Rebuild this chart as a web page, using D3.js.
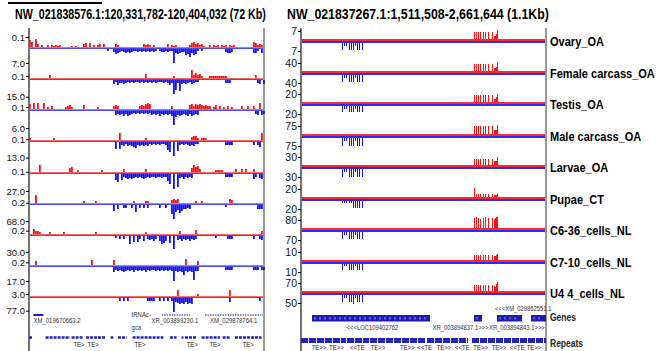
<!DOCTYPE html>
<html>
<head>
<meta charset="utf-8">
<script src="https://cdn.jsdelivr.net/npm/d3@7"></script>
<style>
body { margin: 0; background: #fff; }
svg { display: block; font-family: "Liberation Sans", Arial, sans-serif; }
</style>
</head>
<body>
<script>
const leftTitle = 'NW_021838576.1:120,331,782-120,404,032 (72 Kb)';
const rightTitle = 'NW_021837267.1:1,511,508-2,661,644 (1.1Kb)';
const samples = ['Ovary_OA', 'Female carcass_OA', 'Testis_OA', 'Male carcass_OA', 'Larvae_OA',
    'Pupae_CT', 'C6-36_cells_NL', 'C7-10_cells_NL', 'U4 4_cells_NL'];

// axis maxima (plus strand on top, minus strand below)
const leftTopTicks = [0.1, 0.1, 0.1, 0.1, 0.1, 0.2, 0.2, 0.2, 3.0];
const leftBottomTicks = [7.0, 15.0, 6.0, 13.0, 27.0, 68.0, 30.0, 17.0, 77.0];
const rightTopTicks = [7, 40, 20, 75, 30, 20, 80, 10, 70];
const rightBottomTicks = [7, 40, 20, 75, 30, 20, 70, 10, 50];

// coverage: [first bin, heights one char per bin, base 36]
const leftPlus = [
    [[0, '75083'], [6, '2002'], [11, '21212'], [21, '101'], [27, '34040202303'], [43, '32'], [57, '323202'], [69, '30212'], [80, '24534231'], [90, '2021202120212'], [112, '542'], [115, '32']],
    [[10, '3'], [58, '4'], [72, '2'], [81, '83534'], [86, '2'], [90, '222222222'], [113, '3']],
    [[0, '506060060203'], [18, '2342'], [27, '4'], [34, '2'], [42, '343'], [55, '343565'], [71, '3'], [80, '4535454343'], [90, '302403020302'], [106, '30030030060']],
    [[0, '2'], [12, '2'], [45, '7'], [58, '2'], [81, '3442'], [86, '222'], [116, '7']],
    [[5, '7'], [20, '45'], [24, '2'], [36, '2'], [47, '3'], [58, '3'], [81, '4756'], [85, '3'], [93, '2222'], [103, '3'], [106, '3'], [108, '3'], [112, '3']],
    [[3, '8'], [27, '2'], [33, '2'], [52, '2'], [58, '22'], [71, '3434'], [83, '2'], [86, '2'], [100, '43']],
    [[2, '5332'], [10, '2'], [17, '2'], [33, '2'], [58, '2'], [75, '3'], [83, '4'], [116, '3']],
    [[3, '4'], [31, '5'], [42, '5'], [78, '6'], [84, '4']],
    [[74, '6'], [84, '2'], [100, '6']]
];
const leftMinus = [
    [[39, '2'], [42, '354323434322323232'], [60, '3232'], [65, '2332322'], [72, 'e4543'], [77, '36584652'], [86, '2'], [98, '3443'], [112, '44204']],
    [[42, '4253343232322323232'], [61, '323222323'], [70, '53ea3b434324322'], [98, '333'], [114, '3404']],
    [[43, '434353543232323232'], [61, '4343534343'], [71, '5e6454'], [77, '34535434'], [113, '34043']],
    [[43, '707342434563434'], [58, '3423232322'], [68, '38a0e09'], [75, '3232343422'], [98, '3333'], [112, '3035']],
    [[43, '6806345454343454'], [59, '3433433433'], [69, '7a0f0d'], [75, '4353434'], [98, '3333'], [112, '53045']],
    [[42, '604003300307030303'], [65, '3'], [68, '3'], [71, '9e7586'], [77, '4434'], [98, '2'], [114, '444']],
    [[43, '20303008060630503'], [60, '4353'], [65, '58750'], [70, '7'], [72, 'd'], [74, '4353435343'], [93, '2'], [99, '333'], [112, '30034']],
    [[42, '53434543435343435343'], [62, '3434343434'], [72, 'e454584545d44'], [98, '3333'], [112, '333033']],
    [[45, '303030'], [59, '3333'], [65, '30303'], [71, '3e4565646560'], [100, '4'], [115, '3']]
];
const rightPlus = [
    [[173, '707070700707007000703359']],
    [[173, '707070700707007000703349']],
    [[173, '707070700707007000703358']],
    [[173, '808080800808008000804449']],
    [[173, '606060600606006000604448']],
    [[173, '903030300303003000302223']],
    [[173, 'a0b0a0900a0b00a000a09abb']],
    [[173, '505050500505005000504456']],
    [[173, '606060600606006000605479']]
];
const rightMinus = [
    [[41, '703030070707030707007']],
    [[41, '703030070707030707007']],
    [[41, '603030060606030606006']],
    [[41, '803030080808030808008']],
    [[41, '803030080808030808008']],
    [[41, '202020020207070707007']],
    [[41, '703030070707030707007']],
    [[41, '602020060606020606006']],
    [[41, '703030070709030707007']]
];

// annotation tracks
const leftGenes = [
    {name: 'XM_019670663.2', start: 2.2, end: 7.2, label: 2.2, solid: true},
    {name: 'XR_003899230.1', start: 66.3, end: 80.5, label: 61.3, solid: false},
    {name: 'XM_029878764.1', start: 88, end: 118, label: 90.5, solid: false}
];
const leftRepeats = [[0, 2], [8.3, 20.5], [21.3, 27.2], [28.5, 38], [40.8, 42.2], [44.5, 48.8], [51.8, 67.2],
    [70.5, 73.8], [76.3, 77.2], [78, 83.8], [86.3, 95.5], [96.8, 100.5], [103, 116.3]];
const leftTE = [[22.2, 'TE>'], [29.3, 'TE>'], [52.7, 'TE>'], [78.8, 'TE>'], [90.2, 'TE>'], [106.8, 'TE>']];

const rightGenes = [
    {name: '<<<LOC109402762', start: 11, end: 129, label: 45.7, above: false},
    {name: 'XR_003894837.1>>>', start: 173, end: 181, label: 131.7, above: false},
    {name: '<<<XM_029862551.1', start: 196, end: 221, label: 194, above: true},
    {name: 'XR_003894843.1>>>', start: 230, end: 245, label: 188, above: false}
];
const rightRepeats = [[0, 45], [46, 68], [69, 100], [101, 125], [126, 167], [171, 186], [187, 245]];
const rightTE = [[10.7, 'TE>>'], [28, 'TE>>'], [49, '<<TE'], [69.7, 'TE>>'], [99, 'TE>>'], [116.3, '<<TE'],
    [135.7, 'TE>>'], [154, '<<TE'], [172.3, 'TE>>'], [190.7, 'TE>>'], [209, '<<TE'], [225.7, 'TE>>']];

const RED = '#ff1010', BLUE = '#1010ff';

const svg = d3.select('body').append('svg')
    .attr('width', 659)
    .attr('height', 351);

const unpack = runs => runs.flatMap(([start, s]) =>
    s.split('').map((c, k) => ({bin: start + k, v: parseInt(c, 36)}))).filter(d => d.v > 0);

// horizontally squeezed text, the source figure uses a narrow face
const squeezed = (x, y, txt, size, k) => svg.append('text')
    .attr('transform', `translate(${x},${y}) scale(${k},1)`)
    .attr('font-size', size)
    .text(txt);

// squeeze a text so it spans a given width
const fitted = (x, y, txt, size, w) => {
    const t = squeezed(x, y, txt, size, 1).attr('font-weight', 'bold');
    const k = w / t.node().getComputedTextLength();
    return t.attr('transform', `translate(${x},${y}) scale(${k},1)`);
};

const xL = d3.scaleLinear().domain([0, 117]).range([29, 263]);
const yL = d3.scaleLinear().domain([0, 8]).range([48, 297]);
const xR = d3.scaleLinear().domain([0, 245]).range([301, 546]);
const yR = d3.scaleLinear().domain([0, 8]).range([41, 293]);
const h = d3.scaleLinear().domain([0, 15]).range([0, 15]);

// scale bar + titles
svg.append('line').attr('x1', 8).attr('x2', 102).attr('y1', 3).attr('y2', 3)
    .attr('stroke', '#000').attr('stroke-width', 2);

fitted(15, 19, leftTitle, 15.5, 251);
fitted(287, 19, rightTitle, 15.5, 262);

// frames
const frame = (x0, x1) => {
    svg.append('line').attr('x1', x0).attr('x2', x0).attr('y1', 28).attr('y2', 351)
        .attr('stroke', '#444').attr('stroke-width', 1.5);
    svg.append('line').attr('x1', x1).attr('x2', x1).attr('y1', 28).attr('y2', 351)
        .attr('stroke', '#999').attr('stroke-width', 2);
};
frame(29, 264);
frame(301, 546);

const posOffL = [11, 3, 3, 1.7, 1.3, 1.3, 4.3, 3.7, 3];
const negOffL = [15, 17.7, 18, 16.6, 18, 17, 17, 15, 13.7];

const drawTrack = (b, x, plus, minus, barW, lineW, x0, x1, redLine, blueLine) => {
    const g = svg.append('g');
    g.selectAll('.p').data(unpack(plus)).enter().append('rect')
        .attr('x', d => x(d.bin)).attr('width', barW)
        .attr('y', d => b - lineW - h(d.v)).attr('height', d => h(d.v))
        .attr('fill', RED);
    g.selectAll('.m').data(unpack(minus)).enter().append('rect')
        .attr('x', d => x(d.bin)).attr('width', barW)
        .attr('y', b + lineW).attr('height', d => h(d.v))
        .attr('fill', BLUE);
    g.append('rect').attr('x', x0).attr('width', x1 - x0).attr('y', b - lineW).attr('height', lineW)
        .attr('fill', redLine);
    g.append('rect').attr('x', x0).attr('width', x1 - x0).attr('y', b).attr('height', lineW)
        .attr('fill', blueLine);
};

samples.forEach((name, i) => {
    // left panel
    const bl = Math.round(yL(i));
    drawTrack(bl, xL, leftPlus[i], leftMinus[i], 1.8, 1, 30, 263, '#ff6a6a', '#4a4af0');
    const sl = d3.scaleLinear()
        .domain([-leftBottomTicks[i], 0, leftTopTicks[i]])
        .range([bl + negOffL[i], bl, bl - posOffL[i]]);
    svg.append('g').attr('transform', `translate(${xL(0)},0)`)
        .call(d3.axisLeft(sl).tickValues([leftTopTicks[i], -leftBottomTicks[i]])
            .tickSize(3).tickPadding(1).tickFormat(d => d3.format('.1f')(Math.abs(d))))
        .call(a => a.select('.domain').remove())
        .call(a => a.selectAll('text').attr('font-size', 9.5).attr('fill', '#111')
            .attr('font-family', '"Liberation Sans", Arial, sans-serif'));

    // right panel
    const br = Math.round(yR(i));
    drawTrack(br, xR, rightPlus[i], rightMinus[i], 1, 2, 302, 545, '#ff2a2a', '#2a2aff');
    const sr = d3.scaleLinear()
        .domain([-rightBottomTicks[i], 0, rightTopTicks[i]])
        .range([br + 10, br, br - 10]);
    svg.append('g').attr('transform', `translate(${xR(0)},0)`)
        .call(d3.axisLeft(sr).tickValues([rightTopTicks[i], -rightBottomTicks[i]])
            .tickSize(3).tickPadding(1).tickFormat(d => d3.format('d')(Math.abs(d))))
        .call(a => a.select('.domain').remove())
        .call(a => a.selectAll('text').attr('font-size', 10.5).attr('fill', '#111')
            .attr('font-family', '"Liberation Sans", Arial, sans-serif'));

    squeezed(550, br + 1, name, 12, 0.92)
        .attr('dy', '0.35em').attr('font-weight', 'bold');
});

// left annotation tracks
leftGenes.forEach(gn => {
    svg.append('line').attr('x1', xL(gn.start)).attr('x2', Math.min(xL(gn.end), 263))
        .attr('y1', 315).attr('y2', 315)
        .attr('stroke', '#1a1ac8').attr('stroke-width', gn.solid ? 2 : 1.2)
        .attr('stroke-dasharray', gn.solid ? null : '1.5,1');
    squeezed(xL(gn.label), 323, gn.name, 7.5, 0.8).attr('fill', '#333');
});
squeezed(xL(51.3), 317, 'tRNAc-', 7.5, 0.8).attr('fill', '#333');
squeezed(xL(51.3), 330, 'gca', 7.5, 0.8).attr('fill', '#333');
svg.selectAll('.lrep').data(leftRepeats).enter().append('line')
    .attr('x1', d => xL(d[0])).attr('x2', d => xL(d[1]))
    .attr('y1', 337.5).attr('y2', 337.5)
    .attr('stroke', '#2020c0').attr('stroke-width', 2.5).attr('stroke-dasharray', '3,1');
svg.selectAll('.lte').data(leftTE).enter().append('text')
    .attr('transform', d => `translate(${xL(d[0])},347) scale(0.8,1)`)
    .attr('font-size', 7.5).attr('fill', '#222').text(d => d[1]);

// right annotation tracks
rightGenes.forEach(gn => {
    svg.append('rect').attr('x', xR(gn.start)).attr('width', xR(gn.end) - xR(gn.start))
        .attr('y', 315).attr('height', 6.5).attr('fill', '#1c1cb0');
    svg.selectAll(null).data(d3.range(xR(gn.start) + 3, xR(gn.end) - 2, 5)).enter().append('line')
        .attr('x1', d => d).attr('x2', d => d).attr('y1', 317).attr('y2', 319.5)
        .attr('stroke', '#c8c8ff').attr('stroke-width', 0.8);
    squeezed(xR(gn.label), gn.above ? 311 : 330, gn.name, 7.5, 0.78).attr('fill', '#333');
});
svg.selectAll('.rrep').data(rightRepeats).enter().append('line')
    .attr('x1', d => xR(d[0])).attr('x2', d => xR(d[1]))
    .attr('y1', 340.5).attr('y2', 340.5)
    .attr('stroke', '#2424b4').attr('stroke-width', 5).attr('stroke-dasharray', '7,1');
svg.selectAll('.rte').data(rightTE).enter().append('text')
    .attr('transform', d => `translate(${xR(d[0])},350) scale(0.8,1)`)
    .attr('font-size', 7.5).attr('fill', '#222').text(d => d[1]);

squeezed(550, 317, 'Genes', 10, 0.85).attr('dy', '0.35em').attr('font-weight', 'bold').attr('fill', '#222');
squeezed(550, 343, 'Repeats', 10, 0.85).attr('dy', '0.35em').attr('font-weight', 'bold').attr('fill', '#222');
</script>
</body>
</html>
